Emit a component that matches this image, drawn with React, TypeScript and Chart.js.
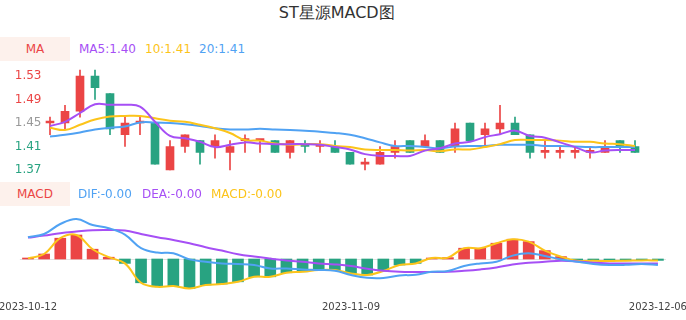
import React, { useEffect, useRef } from "react";
import { Chart, registerables } from "chart.js";

Chart.register(...registerables);

// ---------- data ----------
const dates = [
  "2023-10-12", "2023-10-13", "2023-10-16", "2023-10-17", "2023-10-18", "2023-10-19", "2023-10-20",
  "2023-10-23", "2023-10-24", "2023-10-25", "2023-10-26", "2023-10-27", "2023-10-30", "2023-10-31",
  "2023-11-01", "2023-11-02", "2023-11-03", "2023-11-06", "2023-11-07", "2023-11-08", "2023-11-09",
  "2023-11-10", "2023-11-13", "2023-11-14", "2023-11-15", "2023-11-16", "2023-11-17", "2023-11-20",
  "2023-11-21", "2023-11-22", "2023-11-23", "2023-11-24", "2023-11-27", "2023-11-28", "2023-11-29",
  "2023-11-30", "2023-12-01", "2023-12-04", "2023-12-05", "2023-12-06",
];
const dateTicks = ["2023-10-12", "2023-11-09", "2023-12-06"];

const opens = [1.45, 1.45, 1.47, 1.53, 1.50, 1.43, 1.45, 1.45, 1.37, 1.41, 1.42, 1.41, 1.40, 1.42, 1.42, 1.42, 1.40, 1.41, 1.41, 1.41, 1.40, 1.38, 1.38, 1.40, 1.42, 1.41, 1.42, 1.41, 1.45, 1.43, 1.44, 1.45, 1.43, 1.40, 1.40, 1.40, 1.40, 1.40, 1.42, 1.41];
const closes = [1.45, 1.47, 1.53, 1.51, 1.44, 1.45, 1.45, 1.38, 1.41, 1.43, 1.40, 1.42, 1.41, 1.42, 1.42, 1.40, 1.42, 1.41, 1.41, 1.40, 1.38, 1.38, 1.40, 1.41, 1.40, 1.42, 1.40, 1.44, 1.42, 1.44, 1.45, 1.43, 1.40, 1.40, 1.40, 1.40, 1.40, 1.41, 1.41, 1.40];
const highs = [1.46, 1.48, 1.54, 1.54, 1.50, 1.46, 1.46, 1.45, 1.42, 1.43, 1.42, 1.43, 1.42, 1.43, 1.42, 1.42, 1.42, 1.42, 1.42, 1.42, 1.40, 1.39, 1.41, 1.42, 1.42, 1.43, 1.42, 1.45, 1.45, 1.45, 1.48, 1.46, 1.43, 1.42, 1.41, 1.41, 1.41, 1.42, 1.42, 1.42];
const lows = [1.43, 1.44, 1.46, 1.49, 1.43, 1.41, 1.43, 1.38, 1.37, 1.40, 1.38, 1.39, 1.37, 1.40, 1.40, 1.40, 1.39, 1.40, 1.40, 1.40, 1.38, 1.37, 1.38, 1.39, 1.40, 1.41, 1.40, 1.40, 1.42, 1.41, 1.43, 1.43, 1.39, 1.39, 1.39, 1.39, 1.39, 1.40, 1.40, 1.40];

const ma5 = [1.445, 1.452, 1.467, 1.482, 1.481, 1.481, 1.478, 1.452, 1.428, 1.424, 1.418, 1.409, 1.413, 1.417, 1.415, 1.414, 1.414, 1.414, 1.413, 1.409, 1.405, 1.397, 1.394, 1.394, 1.394, 1.403, 1.407, 1.415, 1.418, 1.426, 1.431, 1.437, 1.428, 1.425, 1.417, 1.409, 1.400, 1.403, 1.404, 1.404];
const ma10 = [1.442, 1.438, 1.447, 1.456, 1.461, 1.462, 1.462, 1.458, 1.454, 1.452, 1.447, 1.441, 1.433, 1.421, 1.420, 1.415, 1.413, 1.414, 1.414, 1.411, 1.409, 1.405, 1.404, 1.404, 1.403, 1.404, 1.402, 1.405, 1.405, 1.409, 1.414, 1.421, 1.421, 1.421, 1.420, 1.418, 1.418, 1.415, 1.414, 1.411];
const ma20 = [1.427, 1.430, 1.434, 1.439, 1.442, 1.444, 1.451, 1.451, 1.450, 1.448, 1.445, 1.441, 1.439, 1.439, 1.440, 1.439, 1.438, 1.437, 1.435, 1.433, 1.430, 1.424, 1.417, 1.411, 1.411, 1.409, 1.407, 1.410, 1.411, 1.411, 1.413, 1.413, 1.413, 1.411, 1.411, 1.410, 1.409, 1.409, 1.409, 1.409];

const dif = [0.0109, 0.0125, 0.0175, 0.0200, 0.0170, 0.0154, 0.0122, 0.0054, 0.0032, 0.0029, -0.0002, -0.0014, -0.0022, -0.0025, -0.0030, -0.0047, -0.0047, -0.0052, -0.0055, -0.0059, -0.0080, -0.0094, -0.0095, -0.0082, -0.0079, -0.0064, -0.0060, -0.0035, -0.0022, -0.0014, 0.0017, 0.0029, 0.0015, -0.0002, -0.0014, -0.0025, -0.0030, -0.0029, -0.0025, -0.0030];
const dea = [0.0107, 0.0117, 0.0129, 0.0137, 0.0144, 0.0145, 0.0142, 0.0125, 0.0109, 0.0095, 0.0079, 0.0059, 0.0042, 0.0024, 0.0012, 0.0002, -0.0007, -0.0014, -0.0022, -0.0027, -0.0035, -0.0049, -0.0059, -0.0064, -0.0065, -0.0065, -0.0064, -0.0059, -0.0052, -0.0042, -0.0027, -0.0019, -0.0014, -0.0009, -0.0012, -0.0019, -0.0022, -0.0022, -0.0022, -0.0022];
const macd = [0.0003, 0.0025, 0.0104, 0.0120, 0.0049, 0.0009, -0.0022, -0.0119, -0.0139, -0.0135, -0.0147, -0.0130, -0.0125, -0.0114, -0.0089, -0.0089, -0.0069, -0.0064, -0.0055, -0.0055, -0.0072, -0.0080, -0.0060, -0.0030, -0.0022, 0.0005, 0.0007, 0.0054, 0.0054, 0.0079, 0.0099, 0.0087, 0.0042, 0.0012, -0.0009, -0.0009, -0.0010, -0.0009, -0.0007, -0.0007];

const priceTicks = [1.37, 1.41, 1.45, 1.49, 1.53];
const refPrice = 1.45;

// ---------- style ----------
const RED = "#eb4545";
const GREEN = "#28a381";
const PURPLE = "#a64ff5";
const YELLOW = "#fcc41a";
const BLUE = "#50a2f3";
const FONT = "'DejaVu Sans', sans-serif";

function candleColors(): string[] {
  return opens.map((o, i) => {
    const c = closes[i];
    if (c > o) return RED;
    if (c < o) return GREEN;
    const prev = i > 0 ? closes[i - 1] : o;
    return c < prev ? GREEN : RED;
  });
}

const zeroLine = {
  id: "zeroLine",
  beforeDatasetsDraw(chart: any) {
    const { ctx, chartArea, scales } = chart;
    const py = Math.round(scales.y.getPixelForValue(0)) + 0.5;
    ctx.save();
    ctx.strokeStyle = "#e2e2e2";
    ctx.lineWidth = 1;
    ctx.beginPath();
    ctx.moveTo(chartArea.left, py);
    ctx.lineTo(chartArea.right, py);
    ctx.stroke();
    ctx.restore();
  },
};

export default function App() {
  const kRef = useRef<HTMLCanvasElement>(null);
  const mRef = useRef<HTMLCanvasElement>(null);

  useEffect(() => {
    const colors = candleColors();
    const lineDs = (label: string, data: number[], color: string) => ({
      type: "line" as const,
      label,
      data,
      borderColor: color,
      backgroundColor: color,
      borderWidth: 2,
      pointRadius: 0,
      tension: 0.4,
      order: 0,
    });

    const k = new Chart(kRef.current!, {
      type: "bar",
      data: {
        labels: dates,
        datasets: [
          lineDs("MA5", ma5, PURPLE),
          lineDs("MA10", ma10, YELLOW),
          lineDs("MA20", ma20, BLUE),
          {
            type: "bar",
            label: "body",
            data: opens.map((o, i) => [o, closes[i]]) as any,
            backgroundColor: colors,
            barThickness: 8,
            minBarLength: 2,
            grouped: false,
            order: 1,
          } as any,
          {
            type: "bar",
            label: "wick",
            data: lows.map((l, i) => [l, highs[i]]) as any,
            backgroundColor: colors,
            barThickness: 1,
            grouped: false,
            order: 2,
          } as any,
        ],
      },
      options: {
        animation: false,
        responsive: false,
        maintainAspectRatio: false,
        layout: { padding: { left: 0, right: 43.5, top: 0, bottom: 0 } },
        plugins: { legend: { display: false }, tooltip: { enabled: false }, title: { display: false } },
        scales: {
          x: { display: false, offset: true },
          y: {
            min: 1.34447,
            max: 1.55723,
            grid: { display: false, drawTicks: false },
            border: { display: false },
            ticks: {
              padding: 1,
              font: { family: FONT, size: 12 },
              color: (ctx: any) => {
                const v = ctx.tick ? ctx.tick.value : refPrice;
                if (v > refPrice + 1e-9) return RED;
                if (v < refPrice - 1e-9) return GREEN;
                return "#999999";
              },
              callback: (v: any) => Number(v).toFixed(2),
            },
            afterBuildTicks: (s: any) => {
              s.ticks = priceTicks.map((v) => ({ value: v }));
            },
            afterFit: (s: any) => {
              s.width = 42.5;
              s.paddingTop = 0;
              s.paddingBottom = 0;
            },
          } as any,
        },
      },
    });

    const m = new Chart(mRef.current!, {
      type: "bar",
      data: {
        labels: dates,
        datasets: [
          lineDs("DIF", dif, BLUE),
          lineDs("DEA", dea, PURPLE),
          lineDs("MACD", macd, YELLOW),
          {
            type: "bar",
            label: "hist",
            data: macd,
            backgroundColor: macd.map((v) => (v >= 0 ? RED : GREEN)),
            barThickness: 11,
            minBarLength: 1,
            order: 1,
          } as any,
        ],
      },
      options: {
        animation: false,
        responsive: false,
        maintainAspectRatio: false,
        layout: { padding: { left: 19.9, right: 20, top: 4, bottom: 0 } },
        plugins: { legend: { display: false }, tooltip: { enabled: false }, title: { display: false } },
        scales: {
          x: {
            offset: true,
            grid: { display: false, drawTicks: false },
            border: { display: false },
            ticks: {
              autoSkip: false,
              maxRotation: 0,
              minRotation: 0,
              padding: 9,
              color: "#444444",
              font: { family: FONT, size: 10 },
              callback: (_v: any, i: number) => (dateTicks.includes(dates[i]) ? dates[i] : ""),
            },
            afterFit: (s: any) => {
              s.height = 28;
              s.paddingLeft = 0;
              s.paddingRight = 0;
            },
          } as any,
          y: { display: false, min: -0.0165, max: 0.0225 },
        },
      },
      plugins: [zeroLine],
    });

    return () => {
      k.destroy();
      m.destroy();
    };
  }, []);

  const abs = (o: React.CSSProperties): React.CSSProperties => ({ position: "absolute", whiteSpace: "nowrap", ...o });

  return (
    <div style={{ position: "absolute", left: 0, top: 0, width: 686, height: 320, background: "#ffffff", fontFamily: FONT, overflow: "hidden" }}>
      <div style={abs({ left: 0, top: 5, width: 673.4, textAlign: "center", fontSize: 16, lineHeight: "16px", color: "#333333" })}>
        ST星源MACD图
      </div>

      <div style={abs({ left: 0, top: 36.7, width: 70, height: 24, lineHeight: "24px", fontSize: 12, textAlign: "center", background: "#fdf1ec", color: RED })}>MA</div>
      <div style={abs({ left: 79, top: 36.7, lineHeight: "24px", fontSize: 12, color: PURPLE })}>MA5:1.40</div>
      <div style={abs({ left: 145, top: 36.7, lineHeight: "24px", fontSize: 12, color: YELLOW })}>10:1.41</div>
      <div style={abs({ left: 199, top: 36.7, lineHeight: "24px", fontSize: 12, color: BLUE })}>20:1.41</div>

      <canvas ref={kRef} width={686} height={125} style={{ position: "absolute", left: 0, top: 60, width: 686, height: 125 }} />

      <div style={abs({ left: 0, top: 181.7, width: 70, height: 24, lineHeight: "24px", fontSize: 12, textAlign: "center", background: "#fdf1ec", color: RED })}>MACD</div>
      <div style={abs({ left: 78, top: 181.7, lineHeight: "24px", fontSize: 12, color: BLUE })}>DIF:-0.00</div>
      <div style={abs({ left: 142, top: 181.7, lineHeight: "24px", fontSize: 12, color: PURPLE })}>DEA:-0.00</div>
      <div style={abs({ left: 211, top: 181.7, lineHeight: "24px", fontSize: 12, color: YELLOW })}>MACD:-0.00</div>

      <canvas ref={mRef} width={686} height={110} style={{ position: "absolute", left: 0, top: 210, width: 686, height: 110 }} />
    </div>
  );
}
